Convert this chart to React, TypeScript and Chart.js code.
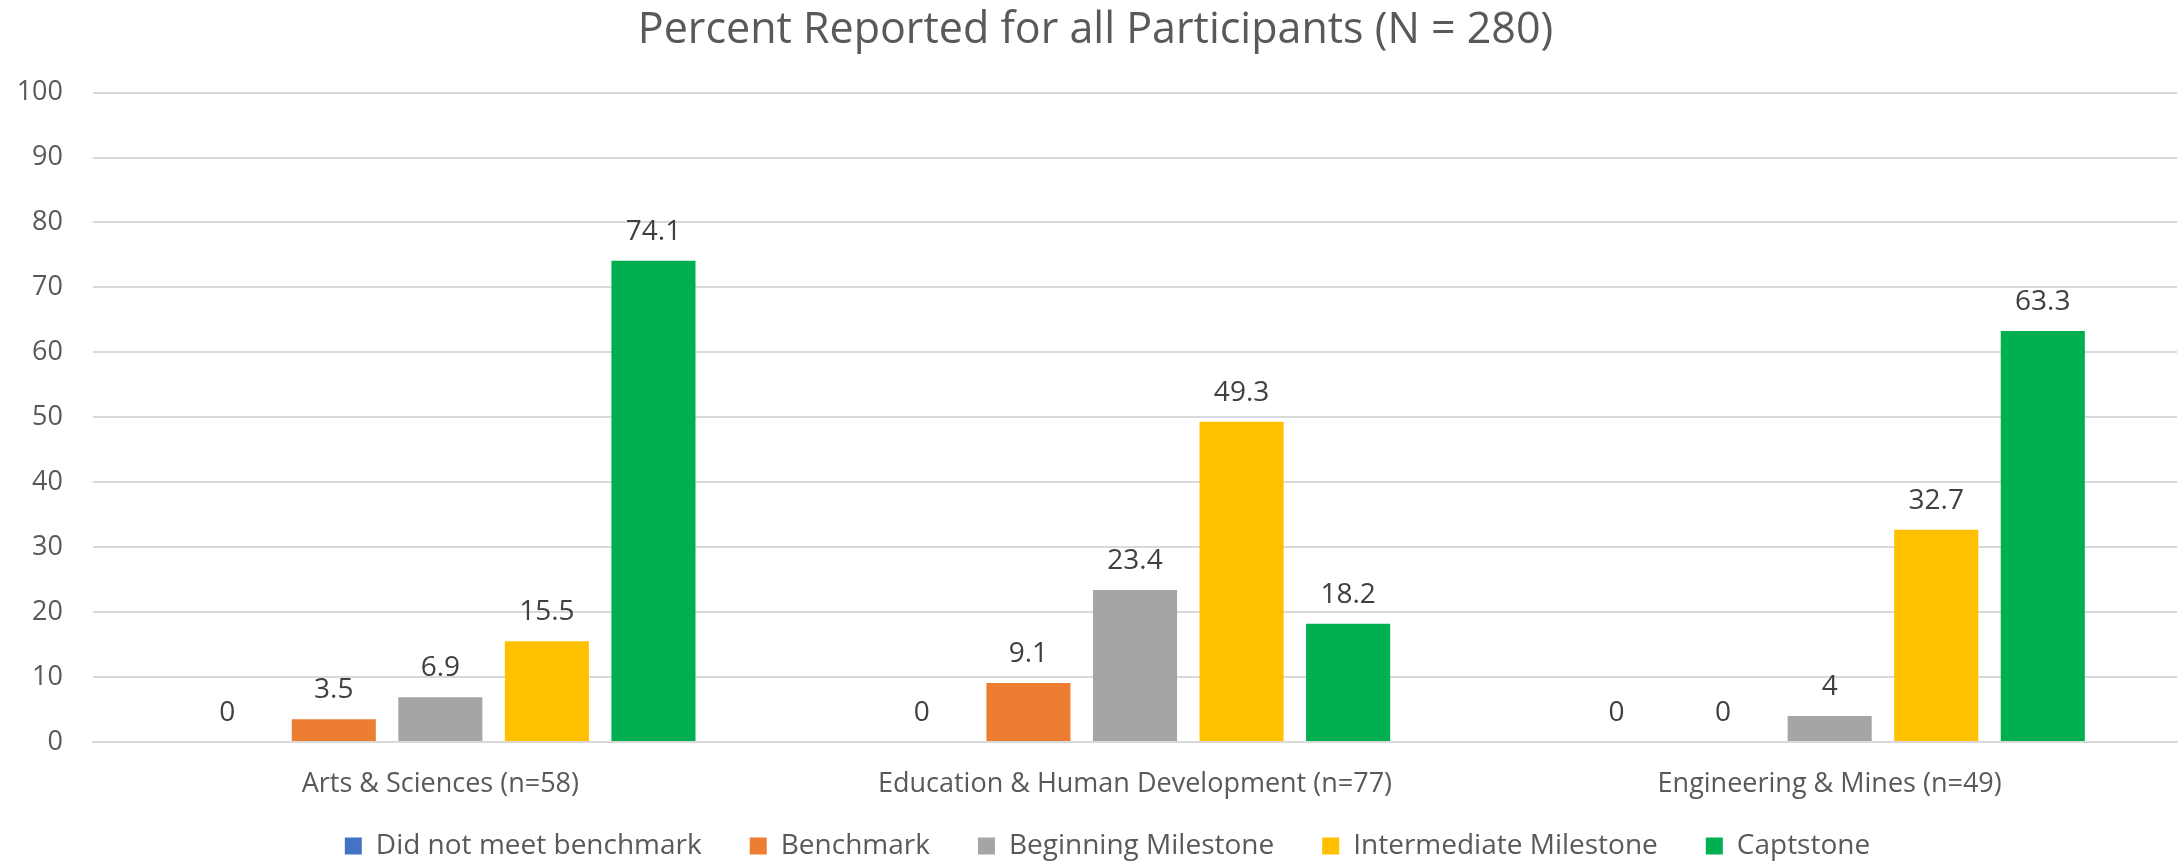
import React, { useEffect, useRef } from "react";
import { Chart, registerables } from "chart.js";

Chart.register(...registerables);

const categories = [
  "Arts & Sciences (n=58)",
  "Education & Human Development (n=77)",
  "Engineering & Mines (n=49)",
];
const seriesNames = [
  "Did not meet benchmark",
  "Benchmark",
  "Beginning Milestone",
  "Intermediate Milestone",
  "Captstone",
];
const didNotMeet = [0, 0, 0];
const benchmark = [3.5, 9.1, 0];
const beginning = [6.9, 23.4, 4];
const intermediate = [15.5, 49.3, 32.7];
const capstone = [74.1, 18.2, 63.3];
const seriesColors = ["#4472C4", "#ED7D31", "#A5A5A5", "#FFC000", "#00B050"];
const yTicks = [0, 10, 20, 30, 40, 50, 60, 70, 80, 90, 100];
const titleText = "Percent Reported for all Participants (N = 280)";

const FONT = "'Open Sans', 'DejaVu Sans', sans-serif";

const dataLabelPlugin = {
  id: "dataLabels",
  afterDatasetsDraw(chart: any) {
    const ctx = chart.ctx;
    ctx.save();
    ctx.font = `28px ${FONT}`;
    ctx.fillStyle = "#404040";
    ctx.textAlign = "center";
    ctx.textBaseline = "middle";
    chart.data.datasets.forEach((ds: any, i: number) => {
      const meta = chart.getDatasetMeta(i);
      meta.data.forEach((el: any, j: number) => {
        const v = ds.data[j];
        ctx.fillText(String(v), el.x, el.y - 29);
      });
    });
    ctx.restore();
  },
};

// let the category labels extend below the axis box, and nudge the legend
const layoutTweakPlugin = {
  id: "layoutTweak",
  afterLayout(chart: any) {
    const x = chart.scales.x;
    if (x) x.bottom = x.top + 80;
    const lg = chart.legend;
    if (lg) {
      lg.left += 12;
      lg.right += 12;
    }
  },
};

export default function App() {
  const ref = useRef<HTMLCanvasElement>(null);
  useEffect(() => {
    document.body.style.margin = "0";
    const values = [didNotMeet, benchmark, beginning, intermediate, capstone];
    const chart = new Chart(ref.current as HTMLCanvasElement, {
      type: "bar",
      data: {
        labels: categories,
        datasets: seriesNames.map((name, i) => ({
          label: name,
          data: values[i],
          backgroundColor: seriesColors[i],
          borderWidth: 0,
          categoryPercentage: 0.767,
          barPercentage: 0.789,
        })),
      },
      options: {
        responsive: false,
        animation: false,
        layout: { padding: { left: 14, right: 6, top: 0, bottom: -8 } },
        plugins: {
          title: {
            display: true,
            text: titleText,
            color: "#595959",
            font: { family: FONT, size: 43, weight: "normal" },
            padding: { top: 5, bottom: 36 },
          },
          legend: {
            position: "bottom",
            labels: {
              color: "#595959",
              font: { family: FONT, size: 28 },
              boxWidth: 17,
              boxHeight: 17,
              padding: 48,
            },
          },
          tooltip: { enabled: false },
        },
        scales: {
          x: {
            grid: { display: false, drawTicks: false },
            border: { display: true, color: "#D9D9D9", width: 2 },
            ticks: {
              color: "#595959",
              font: { family: FONT, size: 27 },
              padding: 26,
              maxRotation: 0,
              autoSkip: false,
            },
            afterFit: (scale: any) => {
              scale.height = 42;
            },
          },
          y: {
            min: 0,
            max: 100,
            afterBuildTicks: (scale: any) => {
              scale.ticks = yTicks.map((v) => ({ value: v }));
            },
            grid: { color: "#D9D9D9", lineWidth: 2, drawTicks: false },
            border: { display: false },
            ticks: {
              color: "#595959",
              font: { family: FONT, size: 27 },
              padding: 30,
            },
            afterFit: (scale: any) => {
              scale.width = 79;
            },
          },
        },
      },
      plugins: [dataLabelPlugin, layoutTweakPlugin],
    });
    return () => chart.destroy();
  }, []);
  return <canvas ref={ref} width={2183} height={862} style={{ display: "block" }} />;
}
